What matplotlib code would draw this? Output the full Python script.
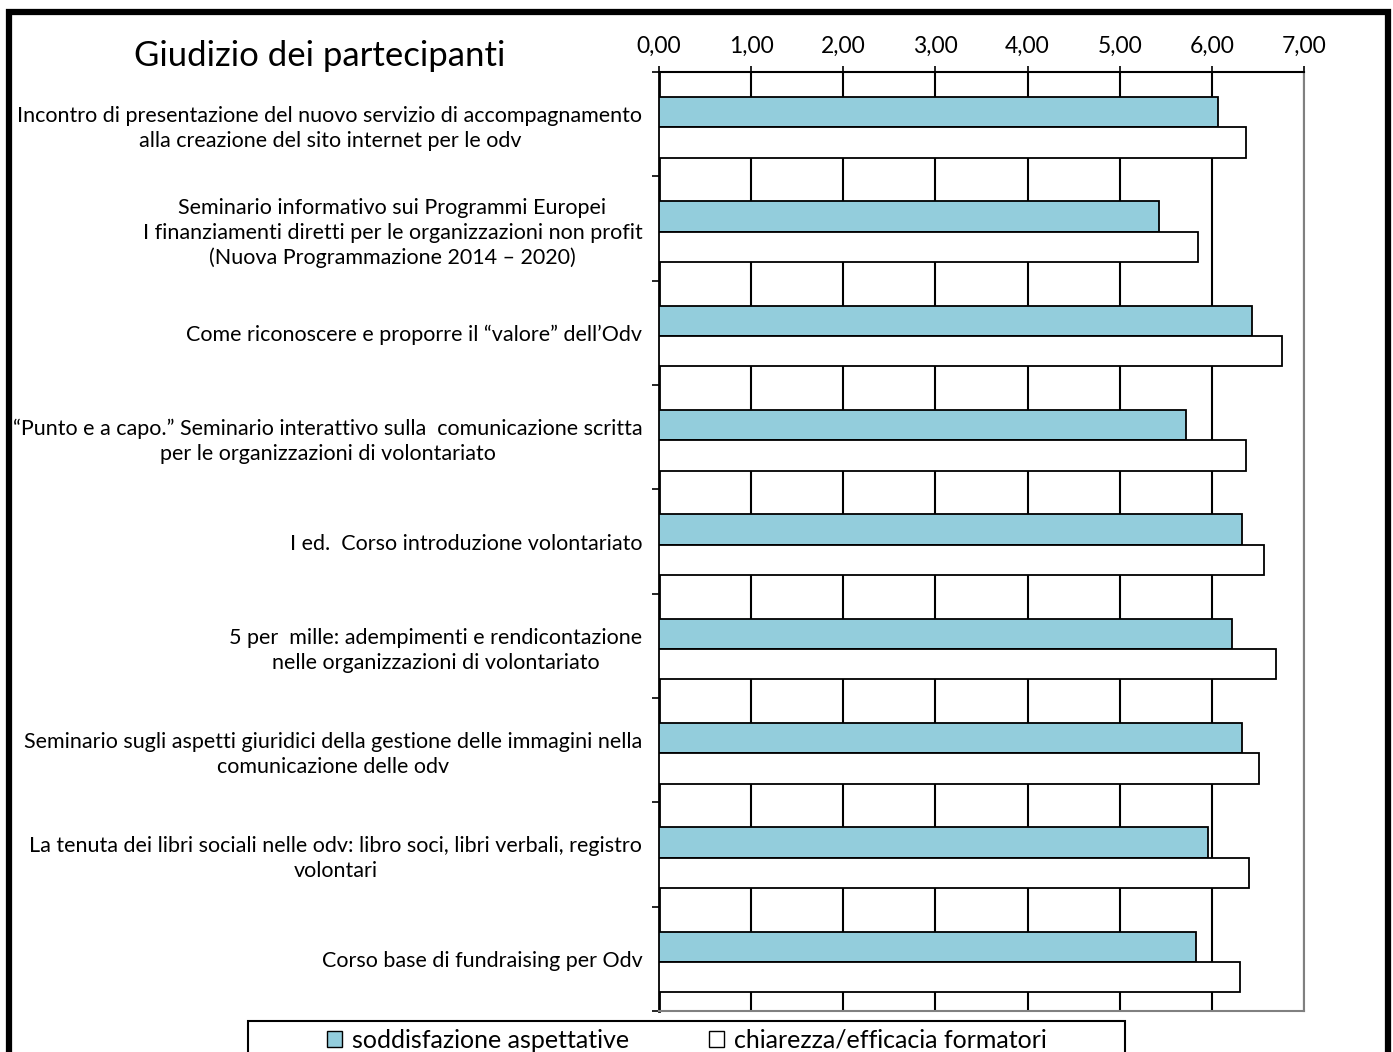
import matplotlib
matplotlib.use("Agg")
import matplotlib.pyplot as plt
import numpy as np
from matplotlib.patches import Rectangle, Patch
from matplotlib.ticker import FuncFormatter, FixedLocator

plt.rcParams['font.family'] = ['Lato', 'DejaVu Sans']

categories = [
    "Incontro di presentazione del nuovo servizio di accompagnamento\nalla creazione del sito internet per le odv",
    "Seminario informativo sui Programmi Europei\nI finanziamenti diretti per le organizzazioni non profit\n(Nuova Programmazione 2014 \u2013 2020)",
    "Come riconoscere e proporre il \u201cvalore\u201d dell\u2019Odv",
    "\u201cPunto e a capo.\u201d Seminario interattivo sulla  comunicazione scritta\nper le organizzazioni di volontariato",
    "I ed.  Corso introduzione volontariato",
    "5 per  mille: adempimenti e rendicontazione\nnelle organizzazioni di volontariato",
    "Seminario sugli aspetti giuridici della gestione delle immagini nella\ncomunicazione delle odv",
    "La tenuta dei libri sociali nelle odv: libro soci, libri verbali, registro\nvolontari",
    "Corso base di fundraising per Odv",
]
soddisfazione = [6.07, 5.43, 6.44, 5.72, 6.33, 6.22, 6.33, 5.96, 5.83]
chiarezza = [6.37, 5.85, 6.76, 6.37, 6.57, 6.70, 6.51, 6.40, 6.31]
series_names = ["soddisfazione aspettative", "chiarezza/efficacia formatori"]
xticks = [0, 1, 2, 3, 4, 5, 6, 7]

W, H = 1393, 1052
fig = plt.figure(figsize=(W / 100, H / 100), dpi=100)
ax = fig.add_axes([659 / W, 1 - 1011 / H, (1304 - 659) / W, (1011 - 72) / H])

y = np.arange(len(categories))
h = 0.29
blue = '#93CDDC'
ax.barh(y - h / 2 + 0.03, soddisfazione, height=h, color=blue, edgecolor='black', linewidth=1.3, zorder=3)
ax.barh(y + h / 2 + 0.03, chiarezza, height=h, color='white', edgecolor='black', linewidth=1.3, zorder=3)

ax.set_xlim(0, 7)
ax.set_ylim(len(categories) - 0.5, -0.5)
ax.xaxis.tick_top()
ax.set_xticks(xticks)
ax.xaxis.set_major_formatter(FuncFormatter(lambda v, p: f"{v:.2f}".replace('.', ',')))
ax.tick_params(axis='x', direction='out', length=4, width=1.2, pad=7, labelsize=16.5)
ax.grid(axis='x', color='black', linewidth=1.5, zorder=0)

ax.set_yticks(y)
ax.set_yticklabels(categories, multialignment='center', fontsize=15.5, linespacing=1.3)
ax.tick_params(axis='y', which='major', length=0, pad=12)
ax.yaxis.set_minor_locator(FixedLocator(np.arange(-0.5, len(categories) + 0.5, 1)))
ax.tick_params(axis='y', which='minor', length=5, width=1.2, direction='out')

ax.spines['top'].set_linewidth(1.5)
ax.spines['left'].set_linewidth(2)
ax.spines['right'].set_color('#808080')
ax.spines['right'].set_linewidth(1.5)
ax.spines['bottom'].set_color('#808080')
ax.spines['bottom'].set_linewidth(1.5)

fig.text(320 / W, 1 - 56 / H, "Giudizio dei partecipanti", fontsize=25, ha='center', va='center')

# outer frame
fig.patches.append(Rectangle((9 / W, -0.02), (1388 - 9) / W, (1052 - 12) / H + 0.02,
                             transform=fig.transFigure, fill=False, edgecolor='black', linewidth=4.5))
# legend box
fig.patches.append(Rectangle((248 / W, -0.02), (1125 - 248) / W, (1052 - 1021) / H + 0.02,
                             transform=fig.transFigure, fill=False, edgecolor='black', linewidth=1.5))
handles = [Patch(facecolor=blue, edgecolor='black', linewidth=1),
           Patch(facecolor='white', edgecolor='black', linewidth=1)]
fig.legend(handles, series_names, loc='center', bbox_to_anchor=(687 / W, 1 - 1040 / H),
           ncol=2, frameon=False, fontsize=18, handlelength=0.6, handleheight=0.6,
           handletextpad=0.4, columnspacing=3.2, borderpad=0)

fig.savefig("out.png", dpi=100)
